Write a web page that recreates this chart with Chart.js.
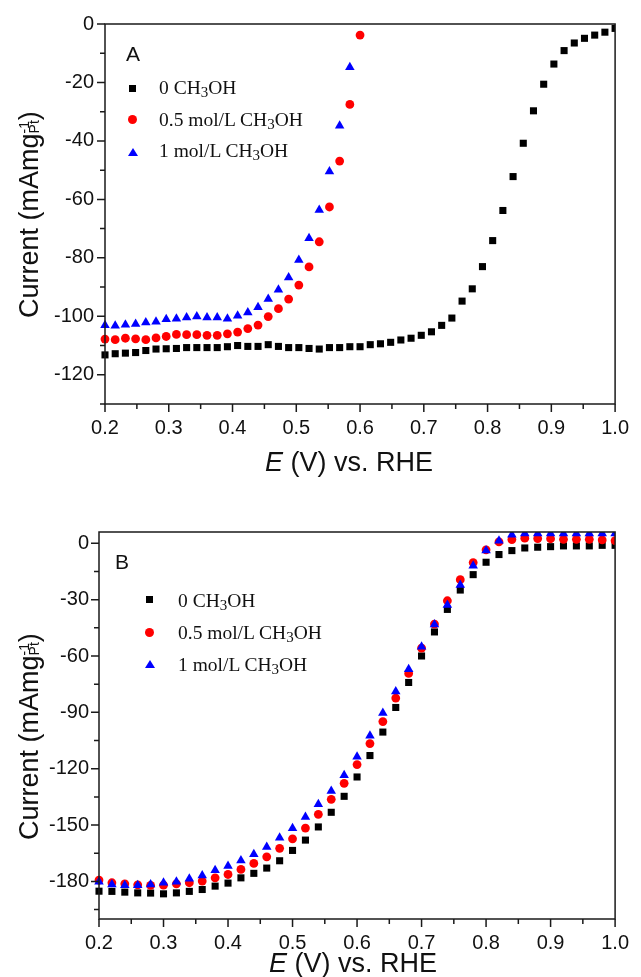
<!DOCTYPE html>
<html>
<head>
<meta charset="utf-8">
<script src="https://cdn.jsdelivr.net/npm/chart.js@4.4.1/dist/chart.umd.min.js"></script>
<style>
    body { margin: 0; background: #fff; }
    #page { position: relative; width: 641px; height: 977px; overflow: hidden; }
    #page canvas { position: absolute; left: 0; }
    .ytitle, .xtitle {
        position: absolute;
        font-family: "Liberation Sans", Arial, sans-serif;
        font-size: 27px;
        line-height: 27px;
        white-space: nowrap;
        color: #111;
    }
    .ytitle { transform-origin: 0 0; transform: rotate(-90deg); }
    .hi { font-size: 14px; line-height: 0; position: relative; top: -9px; }
    .lo { font-size: 14px; line-height: 0; position: relative; top: 1px; margin-left: -12.4px; }
    .panel {
        position: absolute;
        font-family: "Liberation Sans", Arial, sans-serif;
        font-size: 21px;
        line-height: 21px;
        color: #111;
    }
    .leg {
        position: absolute;
        font-family: "Liberation Serif", "Times New Roman", serif;
        font-size: 19.5px;
        line-height: 19.5px;
        white-space: nowrap;
        color: #111;
    }
    .leg sub { font-size: 15px; line-height: 0; vertical-align: -2.5px; }
    .sq { position: absolute; width: 7px; height: 7px; background: #000; }
    .ci { position: absolute; width: 9px; height: 9px; border-radius: 50%; background: #f00; }
    .tr {
        position: absolute; width: 0; height: 0;
        border-left: 5px solid transparent;
        border-right: 5px solid transparent;
        border-bottom: 8px solid #00f;
    }
</style>
</head>
<body>
<div id="page">
    <canvas id="chartA" width="641" height="480" style="top:0"></canvas>
    <canvas id="chartB" width="641" height="497" style="top:480px"></canvas>

    <!-- panel A -->
    <div class="panel" style="left:126px; top:43px">A</div>
    <div class="sq" style="left:129px; top:85px"></div>
    <div class="ci" style="left:128px; top:115px"></div>
    <div class="tr" style="left:128px; top:148px"></div>
    <div class="leg" style="left:159px; top:78px">0 CH<sub>3</sub>OH</div>
    <div class="leg" style="left:159px; top:110px">0.5 mol/L CH<sub>3</sub>OH</div>
    <div class="leg" style="left:159px; top:141px">1 mol/L CH<sub>3</sub>OH</div>
    <div class="ytitle" style="left:16px; top:318px">Current (mAmg<span class="hi">-1</span><span class="lo">Pt</span>)</div>
    <div class="xtitle" style="left:265px; top:449px"><i>E</i> (V) vs. RHE</div>

    <!-- panel B -->
    <div class="panel" style="left:115px; top:551px">B</div>
    <div class="sq" style="left:146px; top:596px"></div>
    <div class="ci" style="left:145px; top:628px"></div>
    <div class="tr" style="left:145px; top:660px"></div>
    <div class="leg" style="left:178px; top:591px">0 CH<sub>3</sub>OH</div>
    <div class="leg" style="left:178px; top:623px">0.5 mol/L CH<sub>3</sub>OH</div>
    <div class="leg" style="left:178px; top:655px">1 mol/L CH<sub>3</sub>OH</div>
    <div class="ytitle" style="left:16px; top:840px">Current (mAmg<span class="hi">-1</span><span class="lo">Pt</span>)</div>
    <div class="xtitle" style="left:269px; top:950px"><i>E</i> (V) vs. RHE</div>
</div>

<script>
// Panel A: potential (V vs. RHE) and current (mA/mg Pt)
const potentialA = [
    0.200, 0.216, 0.232, 0.248, 0.264, 0.280, 0.296, 0.312, 0.328, 0.344,
    0.360, 0.376, 0.392, 0.408, 0.424, 0.440, 0.456, 0.472, 0.488, 0.504,
    0.520, 0.536, 0.552, 0.568, 0.584, 0.600, 0.616, 0.632, 0.648, 0.664,
    0.680, 0.696, 0.712, 0.728, 0.744, 0.760, 0.776, 0.792, 0.808, 0.824,
    0.840, 0.856, 0.872, 0.888, 0.904, 0.920, 0.936, 0.952, 0.968, 0.984,
    1.000
];
const noMethanolA = [
    -113.2, -112.8, -112.6, -112.4, -111.7, -111.2, -111.1, -111.0, -110.7, -110.7,
    -110.7, -110.7, -110.4, -110.0, -110.3, -110.3, -109.7, -110.3, -110.7, -110.7,
    -111.0, -111.2, -110.7, -110.7, -110.4, -110.4, -109.7, -109.4, -108.9, -108.1,
    -107.5, -106.5, -105.3, -103.1, -100.6, -94.8, -90.6, -83.0, -74.1, -63.8,
    -52.2, -40.8, -29.7, -20.6, -13.7, -9.1, -6.5, -4.9, -3.8, -2.8,
    -1.5
];
const halfMolarA = [
    -107.8, -108.0, -107.5, -107.7, -108.0, -107.4, -106.9, -106.2, -106.3, -106.3,
    -106.5, -106.5, -106.0, -105.4, -104.2, -103.0, -100.1, -97.4, -94.1, -89.3,
    -83.1, -74.5, -62.6, -46.9, -27.5, -3.8
];
const oneMolarA = [
    -103.1, -103.2, -102.9, -102.6, -102.1, -101.9, -101.0, -100.8, -100.4, -100.1,
    -100.4, -100.4, -100.8, -99.8, -98.7, -96.9, -94.1, -90.9, -86.7, -80.7,
    -73.3, -63.6, -50.5, -34.8, -14.8
];

// Panel B
const potentialB = [
    0.20, 0.22, 0.24, 0.26, 0.28, 0.30, 0.32, 0.34, 0.36, 0.38,
    0.40, 0.42, 0.44, 0.46, 0.48, 0.50, 0.52, 0.54, 0.56, 0.58,
    0.60, 0.62, 0.64, 0.66, 0.68, 0.70, 0.72, 0.74, 0.76, 0.78,
    0.80, 0.82, 0.84, 0.86, 0.88, 0.90, 0.92, 0.94, 0.96, 0.98,
    1.00
];
const noMethanolB = [
    -185.2, -185.3, -185.7, -186.1, -186.2, -186.6, -186.1, -185.3, -184.3, -182.5,
    -180.9, -178.1, -175.7, -172.9, -169.0, -163.5, -158.0, -151.0, -143.2, -134.7,
    -124.4, -113.0, -100.5, -87.4, -74.1, -60.0, -47.2, -35.2, -24.9, -16.7,
    -10.1, -6.0, -3.9, -2.5, -2.1, -1.8, -1.4, -1.4, -1.4, -1.1,
    -1.1
];
const halfMolarB = [
    -179.3, -180.7, -181.3, -181.8, -182.1, -182.0, -181.3, -180.7, -179.8, -178.1,
    -176.3, -173.6, -170.4, -166.9, -162.4, -157.3, -151.6, -144.3, -136.3, -127.8,
    -117.8, -106.6, -94.9, -82.4, -69.3, -55.8, -43.0, -30.6, -19.4, -10.3,
    -3.5, 0.7, 2.0, 2.7, 2.5, 2.4, 2.1, 2.1, 2.1, 1.8,
    1.4
];
const oneMolarB = [
    -180.2, -181.6, -182.1, -182.1, -181.6, -180.7, -180.2, -178.6, -176.8, -174.1,
    -171.8, -168.8, -165.6, -161.7, -156.7, -151.7, -145.7, -138.9, -131.8, -123.5,
    -113.7, -102.5, -90.4, -78.9, -67.0, -55.1, -43.2, -32.8, -22.2, -11.9,
    -3.9, 1.4, 4.5, 5.2, 5.2, 5.2, 5.2, 5.2, 5.2, 5.2,
    5.2
];

// Tick labels
const potentialTicks = [0.2, 0.3, 0.4, 0.5, 0.6, 0.7, 0.8, 0.9, 1.0];
const currentTicksA = [0, -20, -40, -60, -80, -100, -120];
const currentTicksB = [0, -30, -60, -90, -120, -150, -180];

Chart.defaults.font.family = "'Liberation Sans', Arial, sans-serif";
Chart.defaults.font.size = 20;
Chart.defaults.color = "#111";

// minor ticks sit halfway between the major ones
function halfSteps(major, lo, hi) {
    const step = major[1] - major[0];
    return major.map((v) => v + step / 2).filter((v) => v >= Math.min(lo, hi) && v <= Math.max(lo, hi));
}

function toPoints(xs, ys) {
    return ys.map((y, i) => ({ x: xs[i], y: y }));
}

// Box round the plot plus outward ticks on the left and bottom
const framePlugin = {
    id: "frame",
    afterDraw(chart, args, opts) {
        const { ctx, chartArea: a, scales } = chart;
        const x = scales.x;
        const y = scales.y;
        ctx.save();
        ctx.strokeStyle = "#1a1a1a";
        ctx.lineWidth = 1.5;
        ctx.beginPath();
        opts.xMajor.forEach((v) => {
            const px = x.getPixelForValue(v);
            ctx.moveTo(px, a.bottom);
            ctx.lineTo(px, a.bottom + 8);
        });
        opts.xMinor.forEach((v) => {
            const px = x.getPixelForValue(v);
            ctx.moveTo(px, a.bottom);
            ctx.lineTo(px, a.bottom + 5);
        });
        opts.yMajor.forEach((v) => {
            const py = y.getPixelForValue(v);
            ctx.moveTo(a.left, py);
            ctx.lineTo(a.left - 8, py);
        });
        opts.yMinor.forEach((v) => {
            const py = y.getPixelForValue(v);
            ctx.moveTo(a.left, py);
            ctx.lineTo(a.left - 5, py);
        });
        ctx.stroke();
        ctx.strokeRect(a.left, a.top, a.right - a.left, a.bottom - a.top);
        ctx.restore();
    },
};

function makeDatasets(xs, black, red, blue) {
    return [
        {
            data: toPoints(xs, black),
            pointStyle: "rect",
            pointRadius: 5,
            backgroundColor: "#000",
            borderWidth: 0,
            order: 3,
        },
        {
            data: toPoints(xs, red),
            pointStyle: "circle",
            pointRadius: 4.4,
            backgroundColor: "#ff0000",
            borderWidth: 0,
            order: 2,
        },
        {
            data: toPoints(xs, blue),
            pointStyle: "triangle",
            pointRadius: 5.5,
            backgroundColor: "#0000ff",
            borderWidth: 0,
            order: 1,
        },
    ];
}

function makeChart(id, cfg) {
    const ctx = document.getElementById(id).getContext("2d");
    return new Chart(ctx, {
        type: "scatter",
        data: { datasets: makeDatasets(cfg.xs, cfg.black, cfg.red, cfg.blue) },
        plugins: [framePlugin],
        options: {
            responsive: false,
            animation: false,
            // clipped at the top and right frame only, like the original
            clip: { left: 6, top: 0, right: 0, bottom: 6 },
            layout: {
                autoPadding: false,
                padding: { top: cfg.top, right: cfg.right, left: 0, bottom: 0 },
            },
            plugins: {
                legend: { display: false },
                tooltip: { enabled: false },
                frame: {
                    xMajor: potentialTicks,
                    xMinor: halfSteps(potentialTicks, 0.2, 1.0),
                    yMajor: cfg.yTicks,
                    yMinor: halfSteps(cfg.yTicks, cfg.yMin, cfg.yMax),
                },
            },
            scales: {
                x: {
                    type: "linear",
                    min: 0.2,
                    max: 1.0,
                    grid: { display: false, drawTicks: false, tickLength: 0 },
                    border: { display: false },
                    ticks: {
                        padding: 12,
                        autoSkip: false,
                        maxRotation: 0,
                        callback: (v) => Number(v).toFixed(1),
                    },
                    afterBuildTicks: (s) => {
                        s.ticks = potentialTicks.map((v) => ({ value: v }));
                    },
                    afterFit: (s) => {
                        s.height = cfg.xHeight;
                    },
                },
                y: {
                    type: "linear",
                    min: cfg.yMin,
                    max: cfg.yMax,
                    grid: { display: false, drawTicks: false, tickLength: 0 },
                    border: { display: false },
                    ticks: {
                        padding: cfg.yPad,
                        autoSkip: false,
                        callback: (v) => String(v),
                    },
                    afterBuildTicks: (s) => {
                        s.ticks = cfg.yTicks.map((v) => ({ value: v }));
                    },
                    afterFit: (s) => {
                        s.width = cfg.yWidth;
                    },
                },
            },
        },
    });
}

makeChart("chartA", {
    xs: potentialA,
    black: noMethanolA,
    red: halfMolarA,
    blue: oneMolarA,
    yTicks: currentTicksA,
    yMin: -130,
    yMax: 0,
    top: 24,
    right: 16,
    yWidth: 105,
    xHeight: 76,
    yPad: 11,
});

makeChart("chartB", {
    xs: potentialB,
    black: noMethanolB,
    red: halfMolarB,
    blue: oneMolarB,
    yTicks: currentTicksB,
    yMin: -200,
    yMax: 6,
    top: 52,
    right: 17,
    yWidth: 99,
    xHeight: 58,
    yPad: 10,
});
</script>
</body>
</html>
